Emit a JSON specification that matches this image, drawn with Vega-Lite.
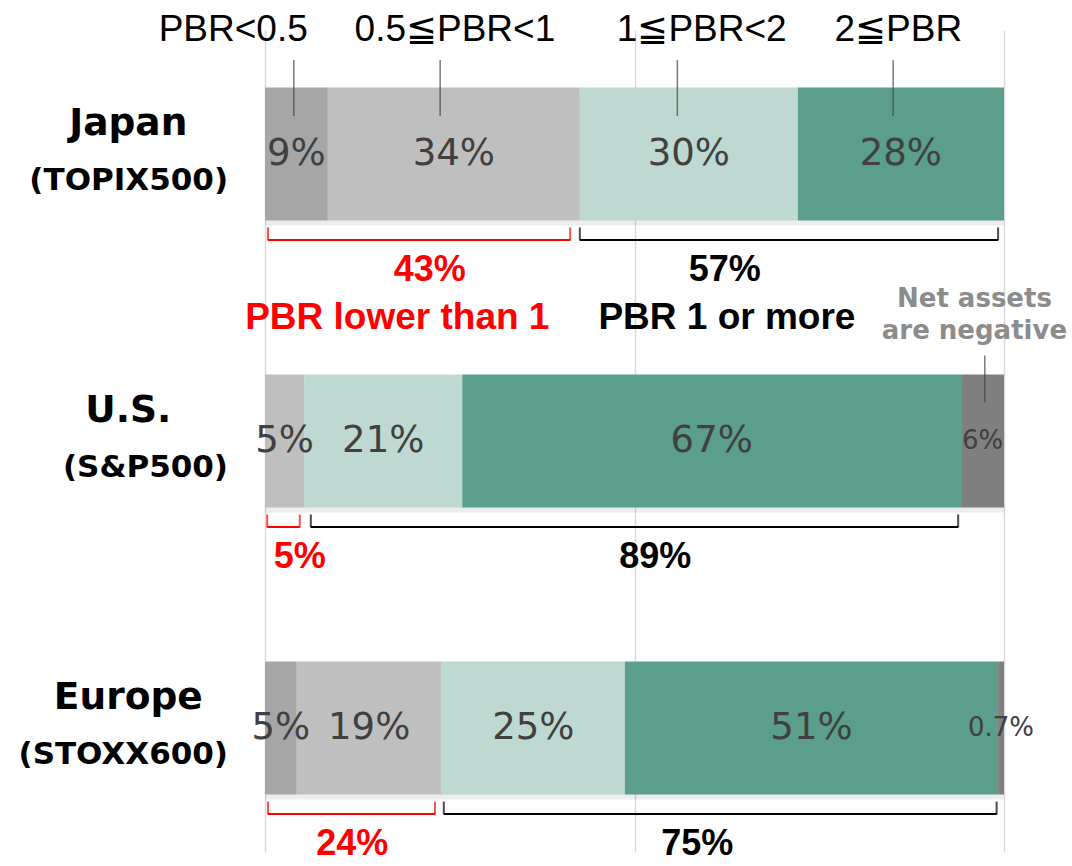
{
  "$schema": "https://vega.github.io/schema/vega-lite/v6.json",
  "autosize": {"type": "none"},
  "width": 739,
  "height": 822,
  "padding": {"left": 265, "top": 30, "right": 68, "bottom": 14},
  "background": "white",
  "config": {"view": {"stroke": null}},
  "datasets": {
    "segments": [
      {"row": "Japan", "cat": "PBR<0.5", "order": 1, "value": 8.5, "label": "9%"},
      {"row": "Japan", "cat": "0.5≦PBR<1", "order": 2, "value": 34.1, "label": "34%"},
      {"row": "Japan", "cat": "1≦PBR<2", "order": 3, "value": 29.5, "label": "30%"},
      {"row": "Japan", "cat": "2≦PBR", "order": 4, "value": 27.9, "label": "28%"},
      {"row": "U.S.", "cat": "0.5≦PBR<1", "order": 2, "value": 5.3, "label": "5%"},
      {"row": "U.S.", "cat": "1≦PBR<2", "order": 3, "value": 21.4, "label": "21%"},
      {"row": "U.S.", "cat": "2≦PBR", "order": 4, "value": 67.5, "label": "67%"},
      {"row": "U.S.", "cat": "Net assets are negative", "order": 5, "value": 5.8, "label": "6%"},
      {"row": "Europe", "cat": "PBR<0.5", "order": 1, "value": 4.3, "label": "5%"},
      {"row": "Europe", "cat": "0.5≦PBR<1", "order": 2, "value": 19.6, "label": "19%"},
      {"row": "Europe", "cat": "1≦PBR<2", "order": 3, "value": 24.8, "label": "25%"},
      {"row": "Europe", "cat": "2≦PBR", "order": 4, "value": 50.5, "label": "51%"},
      {"row": "Europe", "cat": "Net assets are negative", "order": 5, "value": 0.8, "label": "0.7%"}
    ],
    "brackets": [
      {"row": "Japan", "side": "low", "from": 0.4, "to": 41.3, "total": "43%", "at": 22.3, "caption": "PBR lower than 1", "captionAt": 17.9},
      {"row": "Japan", "side": "high", "from": 42.6, "to": 99.2, "total": "57%", "at": 62.2, "caption": "PBR 1 or more", "captionAt": 62.5},
      {"row": "U.S.", "side": "low", "from": 0.3, "to": 4.7, "total": "5%", "at": 4.7, "caption": "", "captionAt": 0},
      {"row": "U.S.", "side": "high", "from": 6.2, "to": 93.8, "total": "89%", "at": 52.8, "caption": "", "captionAt": 0},
      {"row": "Europe", "side": "low", "from": 0.4, "to": 23.0, "total": "24%", "at": 11.8, "caption": "", "captionAt": 0},
      {"row": "Europe", "side": "high", "from": 24.2, "to": 99.0, "total": "75%", "at": 58.5, "caption": "", "captionAt": 0}
    ],
    "headers": [
      {"row": "Japan", "text": "PBR<0.5", "at": -4.3, "lineAt": 3.9},
      {"row": "Japan", "text": "0.5≦PBR<1", "at": 25.7, "lineAt": 23.7},
      {"row": "Japan", "text": "1≦PBR<2", "at": 59.1, "lineAt": 55.8},
      {"row": "Japan", "text": "2≦PBR", "at": 85.7, "lineAt": 85.0}
    ],
    "notes": [
      {"row": "U.S.", "text": ["Net assets", "are negative"], "at": 96.0, "lineAt": 97.4}
    ],
    "rows": [
      {"row": "Japan", "name": "Japan", "index": "(TOPIX500)"},
      {"row": "U.S.", "name": "U.S.", "index": "(S&P500)"},
      {"row": "Europe", "name": "Europe", "index": "(STOXX600)"}
    ]
  },
  "layer": [
    {
      "data": {"name": "segments"},
      "transform": [
        {"stack": "value", "groupby": ["row"], "sort": [{"field": "order", "order": "ascending"}], "as": ["x0", "x1"]}
      ],
      "mark": {"type": "bar", "color": "#000000", "opacity": 0.07, "yOffset": 5},
      "encoding": {
        "x": {"field": "x0", "type": "quantitative", "scale": {"domain": [0, 100], "nice": false, "zero": false},
              "axis": {"grid": true, "values": [0, 50, 100], "gridColor": "#d9d9d9", "gridWidth": 1.5, "labels": false, "ticks": false, "domain": false, "title": null}},
        "x2": {"field": "x1"},
        "y": {"field": "row", "type": "nominal", "scale": {"domain": ["Japan", "U.S.", "Europe"], "paddingInner": 0.5366, "paddingOuter": 0.2}, "axis": null}
      }
    },
    {
      "data": {"name": "segments"},
      "transform": [
        {"stack": "value", "groupby": ["row"], "sort": [{"field": "order", "order": "ascending"}], "as": ["x0", "x1"]}
      ],
      "mark": {"type": "bar"},
      "encoding": {
        "x": {"field": "x0", "type": "quantitative"},
        "x2": {"field": "x1"},
        "y": {"field": "row", "type": "nominal", "scale": {"domain": ["Japan", "U.S.", "Europe"], "paddingInner": 0.5366, "paddingOuter": 0.2}, "axis": null},
        "color": {"field": "cat", "type": "nominal", "legend": null,
                  "scale": {"domain": ["PBR<0.5", "0.5≦PBR<1", "1≦PBR<2", "2≦PBR", "Net assets are negative"],
                            "range": ["#a6a6a6", "#bfbfbf", "#bdd9d1", "#5a9e8b", "#7f7f7f"]}}
      }
    },
    {
      "data": {"name": "segments"},
      "transform": [
        {"stack": "value", "groupby": ["row"], "sort": [{"field": "order", "order": "ascending"}], "as": ["x0", "x1"]},
        {"calculate": "(datum.x0 + datum.x1) / 2", "as": "mid"}
      ],
      "mark": {"type": "text", "font": "DejaVu Sans", "color": "#404040", "align": "center", "baseline": "middle"},
      "encoding": {
        "x": {"field": "mid", "type": "quantitative"},
        "y": {"field": "row", "type": "nominal"},
        "text": {"field": "label"},
        "size": {"condition": {"test": "datum.order === 5", "value": 26}, "value": 37}
      }
    },
    {
      "data": {"name": "brackets"},
      "mark": {"type": "rule", "strokeWidth": 2, "yOffset": 86},
      "encoding": {
        "x": {"field": "from", "type": "quantitative"},
        "x2": {"field": "to"},
        "y": {"field": "row", "type": "nominal"},
        "color": {"condition": {"test": "datum.side === 'low'", "value": "#ff0000"}, "value": "#000000"}
      }
    },
    {
      "data": {"name": "brackets"},
      "mark": {"type": "tick", "size": 13, "thickness": 2, "yOffset": 80},
      "encoding": {
        "x": {"field": "from", "type": "quantitative"},
        "y": {"field": "row", "type": "nominal"},
        "color": {"condition": {"test": "datum.side === 'low'", "value": "#ff0000"}, "value": "#000000"}
      }
    },
    {
      "data": {"name": "brackets"},
      "mark": {"type": "tick", "size": 13, "thickness": 2, "yOffset": 80},
      "encoding": {
        "x": {"field": "to", "type": "quantitative"},
        "y": {"field": "row", "type": "nominal"},
        "color": {"condition": {"test": "datum.side === 'low'", "value": "#ff0000"}, "value": "#000000"}
      }
    },
    {
      "data": {"name": "brackets"},
      "mark": {"type": "text", "font": "Liberation Sans", "fontWeight": "bold", "fontSize": 36, "align": "center", "baseline": "middle", "yOffset": 116},
      "encoding": {
        "x": {"field": "at", "type": "quantitative"},
        "y": {"field": "row", "type": "nominal"},
        "text": {"field": "total"},
        "color": {"condition": {"test": "datum.side === 'low'", "value": "#ff0000"}, "value": "#000000"}
      }
    },
    {
      "data": {"name": "brackets"},
      "mark": {"type": "text", "font": "Liberation Sans", "fontWeight": "bold", "fontSize": 37, "align": "center", "baseline": "middle", "yOffset": 164},
      "encoding": {
        "x": {"field": "captionAt", "type": "quantitative"},
        "y": {"field": "row", "type": "nominal"},
        "text": {"field": "caption"},
        "color": {"condition": {"test": "datum.side === 'low'", "value": "#ff0000"}, "value": "#000000"}
      }
    },
    {
      "data": {"name": "headers"},
      "mark": {"type": "text", "font": "Liberation Sans", "fontSize": 37, "color": "#000000", "align": "center", "baseline": "middle", "yOffset": -124},
      "encoding": {
        "x": {"field": "at", "type": "quantitative"},
        "y": {"field": "row", "type": "nominal"},
        "text": {"field": "text"}
      }
    },
    {
      "data": {"name": "headers"},
      "mark": {"type": "tick", "size": 56, "thickness": 1.5, "color": "#404040", "yOffset": -66},
      "encoding": {
        "x": {"field": "lineAt", "type": "quantitative"},
        "y": {"field": "row", "type": "nominal"}
      }
    },
    {
      "data": {"name": "notes"},
      "mark": {"type": "text", "font": "DejaVu Sans", "fontWeight": "bold", "fontSize": 26, "lineHeight": 32, "color": "#8c8c8c", "align": "center", "baseline": "middle", "yOffset": -142},
      "encoding": {
        "x": {"field": "at", "type": "quantitative"},
        "y": {"field": "row", "type": "nominal"},
        "text": {"field": "text"}
      }
    },
    {
      "data": {"name": "notes"},
      "mark": {"type": "tick", "size": 47, "thickness": 1.5, "color": "#404040", "yOffset": -62},
      "encoding": {
        "x": {"field": "lineAt", "type": "quantitative"},
        "y": {"field": "row", "type": "nominal"}
      }
    },
    {
      "data": {"name": "rows"},
      "mark": {"type": "text", "font": "DejaVu Sans", "fontWeight": "bold", "fontSize": 37.5, "color": "#000000", "align": "center", "baseline": "middle", "yOffset": -30},
      "encoding": {
        "x": {"datum": -18.5, "type": "quantitative"},
        "y": {"field": "row", "type": "nominal"},
        "text": {"field": "name"}
      }
    },
    {
      "data": {"name": "rows"},
      "mark": {"type": "text", "font": "DejaVu Sans", "fontWeight": "bold", "fontSize": 31, "color": "#000000", "align": "right", "baseline": "middle", "yOffset": 27},
      "encoding": {
        "x": {"datum": -5.0, "type": "quantitative"},
        "y": {"field": "row", "type": "nominal"},
        "text": {"field": "index"}
      }
    }
  ]
}
